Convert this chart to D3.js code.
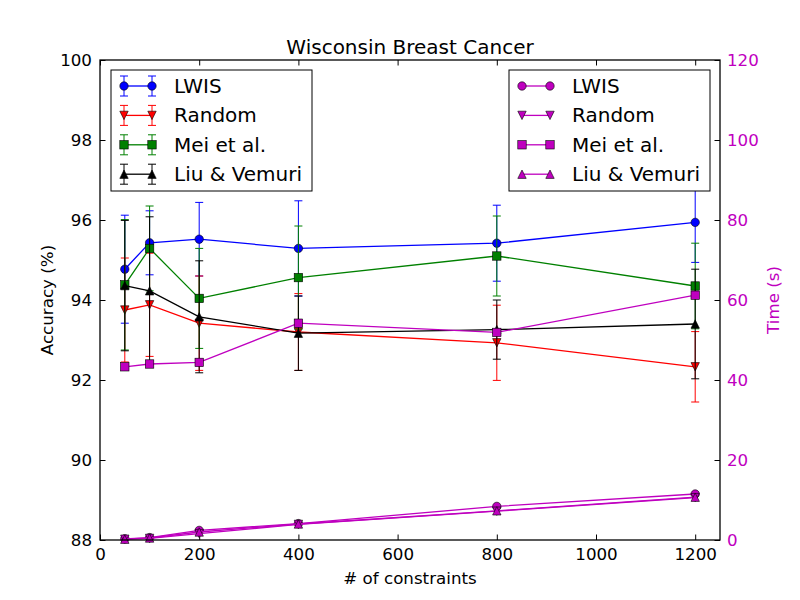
<!DOCTYPE html>
<html>
<head>
<meta charset="utf-8">
<script src="https://cdn.jsdelivr.net/npm/d3@7"></script>
<style>
  body { margin: 0; background: #fff; }
  svg { font-family: "DejaVu Sans", sans-serif; }
</style>
</head>
<body>
<svg width="800" height="600"></svg>
<script>
// Data
const constraints = [50, 100, 200, 400, 800, 1200]
const methods = ["LWIS", "Random", "Mei et al.", "Liu & Vemuri"]

const accLWIS = [94.77, 95.43, 95.52, 95.29, 95.42, 95.94]
const accRandom = [93.75, 93.88, 93.42, 93.20, 92.93, 92.33]
const accMei = [94.38, 95.29, 94.04, 94.56, 95.10, 94.35]
const accLiu = [94.36, 94.23, 93.58, 93.17, 93.26, 93.40]

const stdLWIS = [1.35, 0.80, 0.92, 1.19, 0.95, 1.00]
const stdRandom = [1.30, 1.29, 1.18, 0.96, 0.94, 0.88]
const stdMei = [1.63, 1.06, 1.25, 1.29, 1.00, 1.07]
const stdLiu = [1.63, 1.85, 1.40, 0.93, 0.74, 1.37]

const timeLWIS = [0.3, 0.6, 2.4, 4.1, 8.4, 11.5]
const timeRandom = [0.2, 0.4, 1.6, 3.9, 7.2, 10.6]
const timeMei = [43.3, 44.0, 44.4, 54.2, 51.9, 61.2]
const timeLiu = [0.2, 0.5, 2.0, 4.0, 7.3, 10.7]

const xTicks = [0, 200, 400, 600, 800, 1000, 1200]
const accTicks = [88, 90, 92, 94, 96, 98, 100]
const timeTicks = [0, 20, 40, 60, 80, 100, 120]

const colors = ["#0000ff", "#ff0000", "#008000", "#000000"]
const magenta = "#bf00bf"
const markers = ["circle", "down", "square", "up"]

const svg = d3.select("svg")
const plotL = 100, plotR = 720, plotT = 60, plotB = 540

const x = d3.scaleLinear().domain([0, 1250]).range([plotL, plotR])
const yAcc = d3.scaleLinear().domain([88, 100]).range([plotB, plotT])
const yTime = d3.scaleLinear().domain([0, 120]).range([plotB, plotT])

// marker shapes, roughly 8px across like matplotlib's default size
const m = 4.2
function drawMarker(g, kind, cx, cy, fill) {
	let el
	if (kind === "circle") {
		el = g.append("circle").attr("cx", cx).attr("cy", cy).attr("r", m)
	} else if (kind === "square") {
		el = g.append("rect").attr("x", cx - m).attr("y", cy - m).attr("width", 2 * m).attr("height", 2 * m)
	} else if (kind === "up") {
		el = g.append("path").attr("d", `M${cx},${cy - m}L${cx + m},${cy + m}L${cx - m},${cy + m}Z`)
	} else {
		el = g.append("path").attr("d", `M${cx},${cy + m}L${cx + m},${cy - m}L${cx - m},${cy - m}Z`)
	}
	el.attr("fill", fill).attr("stroke", "#000").attr("stroke-width", 0.6)
}

// axes
const tickFont = "16.7px"
const styleAxis = g => {
	g.select(".domain").remove()
	g.selectAll("text").attr("font-size", tickFont).attr("font-family", "DejaVu Sans")
	g.selectAll("line").attr("stroke", "#000")
}

svg.append("g")
	.attr("transform", `translate(0,${plotB})`)
	.call(d3.axisBottom(x).tickValues(xTicks).tickFormat(d3.format("d")).tickSize(-5.5).tickSizeOuter(0).tickPadding(8))
	.call(styleAxis)
	.selectAll("text").attr("fill", "#000")

svg.append("g")
	.attr("transform", `translate(0,${plotT})`)
	.call(d3.axisTop(x).tickValues(xTicks).tickSize(-5.5).tickSizeOuter(0).tickFormat(""))
	.call(styleAxis)

svg.append("g")
	.attr("transform", `translate(${plotL},0)`)
	.call(d3.axisLeft(yAcc).tickValues(accTicks).tickSize(-5.5).tickSizeOuter(0).tickPadding(8))
	.call(styleAxis)
	.selectAll("text").attr("fill", "#000")

svg.append("g")
	.attr("transform", `translate(${plotR},0)`)
	.call(d3.axisRight(yTime).tickValues(timeTicks).tickSize(-5.5).tickSizeOuter(0).tickPadding(7))
	.call(styleAxis)
	.selectAll("text").attr("fill", magenta)

// accuracy series with error bars
const accSeries = [
	{ mean: accLWIS, std: stdLWIS },
	{ mean: accRandom, std: stdRandom },
	{ mean: accMei, std: stdMei },
	{ mean: accLiu, std: stdLiu }
]

const plot = svg.append("g")

accSeries.forEach((s, k) => {
	const g = plot.append("g")
	const c = colors[k]
	constraints.forEach((cx, i) => {
		const px = x(cx)
		const y0 = yAcc(s.mean[i] - s.std[i]), y1 = yAcc(s.mean[i] + s.std[i])
		g.append("line").attr("x1", px).attr("x2", px).attr("y1", y0).attr("y2", y1)
			.attr("stroke", c).attr("stroke-width", 1)
		;[y0, y1].forEach(cy => {
			g.append("line").attr("x1", px - 4).attr("x2", px + 4).attr("y1", cy).attr("y2", cy)
				.attr("stroke", c).attr("stroke-width", 1)
		})
	})
	const line = d3.line().x((d, i) => x(constraints[i])).y(d => yAcc(d))
	g.append("path").attr("d", line(s.mean)).attr("fill", "none").attr("stroke", c).attr("stroke-width", 1.3)
	s.mean.forEach((v, i) => drawMarker(g, markers[k], x(constraints[i]), yAcc(v), c))
})

// time series on the right axis
const timeSeries = [timeLWIS, timeRandom, timeMei, timeLiu]
timeSeries.forEach((s, k) => {
	const g = plot.append("g")
	const line = d3.line().x((d, i) => x(constraints[i])).y(d => yTime(d))
	g.append("path").attr("d", line(s)).attr("fill", "none").attr("stroke", magenta).attr("stroke-width", 1.3)
	s.forEach((v, i) => drawMarker(g, markers[k], x(constraints[i]), yTime(v), magenta))
})

// frame
svg.append("rect")
	.attr("x", plotL).attr("y", plotT).attr("width", plotR - plotL).attr("height", plotB - plotT)
	.attr("fill", "none").attr("stroke", "#000").attr("stroke-width", 1.3)

// legends
function legend(lx, ly, withErr, colorOf) {
	const g = svg.append("g")
	g.append("rect").attr("x", lx).attr("y", ly).attr("width", 201).attr("height", 121)
		.attr("fill", "#fff").attr("stroke", "#000").attr("stroke-width", 1)
	methods.forEach((name, k) => {
		const cy = ly + 16 + k * 29.4
		const c = colorOf(k)
		const xa = lx + 13, xb = lx + 41
		if (withErr) {
			;[xa, xb].forEach(px => {
				g.append("line").attr("x1", px).attr("x2", px).attr("y1", cy - 10).attr("y2", cy + 10).attr("stroke", c)
				g.append("line").attr("x1", px - 4).attr("x2", px + 4).attr("y1", cy - 10).attr("y2", cy - 10).attr("stroke", c)
				g.append("line").attr("x1", px - 4).attr("x2", px + 4).attr("y1", cy + 10).attr("y2", cy + 10).attr("stroke", c)
			})
		}
		g.append("line").attr("x1", xa).attr("x2", xb).attr("y1", cy).attr("y2", cy)
			.attr("stroke", c).attr("stroke-width", 1.3)
		drawMarker(g, markers[k], xa, cy, c)
		drawMarker(g, markers[k], xb, cy, c)
		g.append("text").attr("x", lx + 63).attr("y", cy + 7)
			.attr("font-size", "20px").text(name)
	})
}
legend(111, 70, true, k => colors[k])
legend(509, 70, false, k => magenta)

// titles
svg.append("text").attr("x", 410).attr("y", 54).attr("text-anchor", "middle")
	.attr("font-size", "20px").text("Wisconsin Breast Cancer")
svg.append("text").attr("x", 410).attr("y", 584).attr("text-anchor", "middle")
	.attr("font-size", "16.7px").text("# of constraints")
svg.append("text").attr("transform", "translate(53,300) rotate(-90)").attr("text-anchor", "middle")
	.attr("font-size", "16.7px").text("Accuracy (%)")
svg.append("text").attr("transform", "translate(779,300) rotate(-90)").attr("text-anchor", "middle")
	.attr("font-size", "16.7px").attr("fill", magenta).text("Time (s)")
</script>
</body>
</html>
